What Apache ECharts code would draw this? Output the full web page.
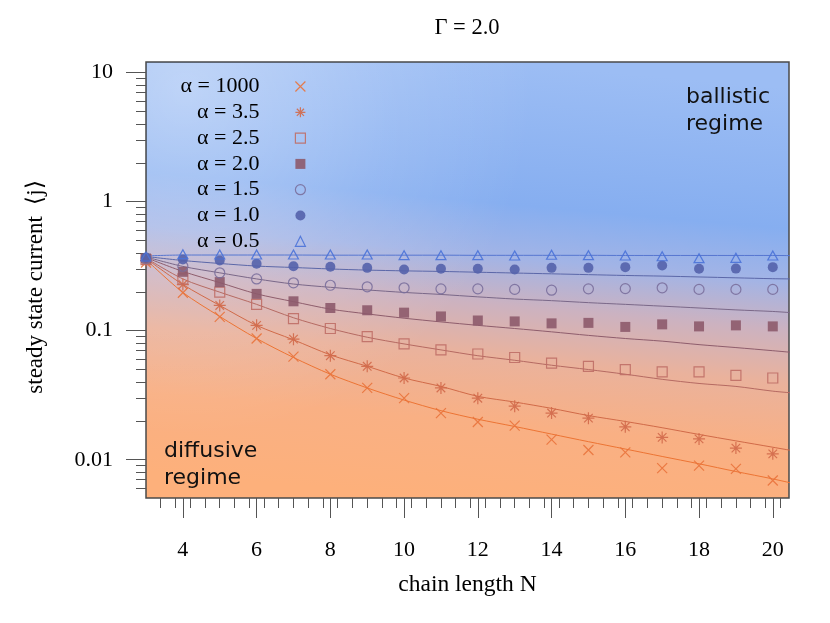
<!DOCTYPE html>
<html>
<head>
<meta charset="utf-8">
<script src="https://cdn.jsdelivr.net/npm/echarts@6/dist/echarts.min.js"></script>
<style>
  html, body { margin: 0; padding: 0; background: #fff; }
  #chart { width: 830px; height: 623px; }
</style>
</head>
<body>
<div id="chart"></div>
<script>
// chain lengths of the simulated points and of the fitted curves
const chainN = [3, 4, 5, 6, 7, 8, 9, 10, 11, 12, 13, 14, 15, 16, 17, 18, 19, 20]
const fitN = [3, 4, 5, 6, 7, 8, 9, 10, 11, 12, 13, 14, 15, 16, 17, 18, 19, 20, 20.5]

// simulated steady state current
const alpha1000 = [0.338, 0.197, 0.128, 0.087, 0.063, 0.046, 0.036, 0.030, 0.023, 0.0196, 0.0184, 0.0143, 0.0119, 0.0114, 0.0086, 0.0090, 0.0085, 0.0069]
const alpha3_5 = [0.350, 0.228, 0.157, 0.110, 0.086, 0.064, 0.053, 0.043, 0.036, 0.030, 0.026, 0.023, 0.021, 0.018, 0.0149, 0.0145, 0.0123, 0.0111]
const alpha2_5 = [0.356, 0.252, 0.199, 0.160, 0.124, 0.104, 0.090, 0.079, 0.071, 0.066, 0.062, 0.056, 0.053, 0.050, 0.048, 0.048, 0.045, 0.043]
const alpha2_0 = [0.363, 0.286, 0.238, 0.193, 0.169, 0.150, 0.144, 0.138, 0.129, 0.120, 0.118, 0.114, 0.115, 0.107, 0.112, 0.108, 0.110, 0.108]
const alpha1_5 = [0.363, 0.316, 0.281, 0.252, 0.235, 0.225, 0.219, 0.215, 0.211, 0.211, 0.209, 0.206, 0.211, 0.212, 0.215, 0.209, 0.209, 0.209]
const alpha1_0 = [0.369, 0.356, 0.350, 0.330, 0.316, 0.313, 0.307, 0.298, 0.302, 0.302, 0.298, 0.307, 0.307, 0.311, 0.320, 0.302, 0.303, 0.311]
const alpha0_5 = [0.376, 0.392, 0.390, 0.390, 0.390, 0.390, 0.390, 0.385, 0.385, 0.385, 0.383, 0.388, 0.385, 0.383, 0.378, 0.365, 0.367, 0.383]

// fitted curves
const fit1000 = [0.356, 0.198, 0.129, 0.087, 0.062, 0.046, 0.036, 0.029, 0.024, 0.0206, 0.0181, 0.0158, 0.0138, 0.0121, 0.0106, 0.0093, 0.0081, 0.0071, 0.0066]
const fit3_5 = [0.363, 0.228, 0.157, 0.110, 0.085, 0.065, 0.053, 0.043, 0.037, 0.031, 0.028, 0.025, 0.022, 0.0198, 0.0177, 0.0157, 0.0140, 0.0125, 0.0118]
const fit2_5 = [0.366, 0.252, 0.199, 0.160, 0.126, 0.104, 0.089, 0.079, 0.071, 0.064, 0.059, 0.054, 0.050, 0.046, 0.042, 0.039, 0.037, 0.034, 0.033]
const fit2_0 = [0.369, 0.288, 0.236, 0.193, 0.168, 0.147, 0.135, 0.125, 0.117, 0.110, 0.104, 0.098, 0.092, 0.087, 0.083, 0.078, 0.074, 0.070, 0.068]
const fit1_5 = [0.373, 0.315, 0.281, 0.252, 0.230, 0.217, 0.207, 0.198, 0.191, 0.183, 0.176, 0.171, 0.165, 0.160, 0.155, 0.150, 0.145, 0.141, 0.138]
const fit1_0 = [0.376, 0.350, 0.332, 0.317, 0.309, 0.301, 0.295, 0.291, 0.288, 0.284, 0.280, 0.276, 0.272, 0.268, 0.265, 0.261, 0.257, 0.253, 0.252]
const fit0_5 = [0.380, 0.386, 0.386, 0.386, 0.386, 0.385, 0.385, 0.385, 0.385, 0.384, 0.384, 0.384, 0.384, 0.383, 0.383, 0.383, 0.383, 0.383, 0.382]

const legendNames = ['α = 1000', 'α = 3.5', 'α = 2.5', 'α = 2.0', 'α = 1.5', 'α = 1.0', 'α = 0.5']

// tick labels
const xMajorTicks = [4, 6, 8, 10, 12, 14, 16, 18, 20]
const yMajorTicks = [0.01, 0.1, 1, 10]
const yMinorTicks = [0.006, 0.007, 0.008, 0.009,
  0.02, 0.03, 0.04, 0.05, 0.06, 0.07, 0.08, 0.09,
  0.2, 0.3, 0.4, 0.5, 0.6, 0.7, 0.8, 0.9,
  2, 3, 4, 5, 6, 7, 8, 9]
const xMinorTicks = []
for (let k = 1; k <= 43; k++) {
  const v = Math.round((3 + k * 0.4) * 10) / 10
  if (v % 2 !== 0) xMinorTicks.push(v)
}

const X_MIN = 3, X_MAX = 20.44
const Y_MIN = 0.00505, Y_MAX = 12.1

const serif = '"Liberation Serif", "Times New Roman", serif'
const sans = '"DejaVu Sans", sans-serif'

const crossPath = 'path://M0,0L10,10M10,0L0,10'
const starPath = 'path://M0,0L10,10M10,0L0,10M5,-2L5,12M-2,5L12,5'

const styles = [
  { pts: alpha1000, fit: fit1000, symbol: crossPath, size: 10, hollow: true, color: '#e9733c', line: '#ec7434' },
  { pts: alpha3_5, fit: fit3_5, symbol: starPath, size: 12, hollow: true, color: '#d2694a', line: '#d06a48' },
  { pts: alpha2_5, fit: fit2_5, symbol: 'rect', size: 10, hollow: true, color: '#bf6e66', line: '#b56a62' },
  { pts: alpha2_0, fit: fit2_0, symbol: 'rect', size: 10, hollow: false, color: '#8d5a6b', line: '#8e5d6c' },
  { pts: alpha1_5, fit: fit1_5, symbol: 'circle', size: 10, hollow: true, color: '#7a6f9c', line: '#7a6888' },
  { pts: alpha1_0, fit: fit1_0, symbol: 'circle', size: 10, hollow: false, color: '#5462ab', line: '#5b67a8' },
  { pts: alpha0_5, fit: fit0_5, symbol: 'triangle', size: [10, 9], hollow: true, color: '#4a72d8', line: '#5676d0' },
]

const series = []
styles.forEach((s, i) => {
  series.push({
    name: 'fit ' + legendNames[i],
    type: 'line',
    data: fitN.map((n, j) => [n, s.fit[j]]),
    smooth: 0.3,
    showSymbol: false,
    clip: true,
    silent: true,
    z: 2,
    lineStyle: { color: s.line, width: 1 },
    itemStyle: { color: s.line },
  })
})
styles.forEach((s, i) => {
  series.push({
    name: legendNames[i],
    type: 'scatter',
    data: chainN.map((n, j) => [n, s.pts[j]]),
    symbol: s.symbol,
    symbolSize: s.size,
    z: 3,
    itemStyle: s.hollow
      ? { color: 'transparent', borderColor: s.color, borderWidth: 1.2, opacity: 0.9 }
      : { color: s.color, opacity: 0.9 },
  })
})

const bg = new echarts.graphic.LinearGradient(0.53, 0, 0.47, 1, [
  { offset: 0, color: '#9cbdf4' },
  { offset: 0.32, color: '#86aef0' },
  { offset: 0.44, color: '#a2b4e6' },
  { offset: 0.55, color: '#ccb2c0' },
  { offset: 0.67, color: '#eab29c' },
  { offset: 0.82, color: '#f9b084' },
  { offset: 1, color: '#fdb07b' },
])

const options = {
  animation: false,
  title: {
    text: 'Γ = 2.0',
    left: 467,
    top: 17,
    padding: 0,
    textAlign: 'center',
    textStyle: { fontFamily: serif, fontSize: 22.5, fontWeight: 'normal', color: '#000' },
  },
  legend: {
    data: legendNames,
    orient: 'vertical',
    align: 'right',
    right: 524,
    top: 75.5,
    padding: 0,
    itemGap: 3.8,
    itemWidth: 10,
    itemHeight: 10,
    itemStyle: { borderWidth: 1.2 },
    textStyle: { fontFamily: serif, fontSize: 22, color: '#000', padding: [0, 31, 0, 0] },
  },
  grid: {
    left: 146,
    right: 41,
    top: 62,
    bottom: 125,
    show: true,
    backgroundColor: bg,
    borderColor: '#4a4a4a',
    borderWidth: 1.5,
  },
  xAxis: [
    {
      type: 'value',
      min: X_MIN,
      max: X_MAX,
      name: 'chain length N',
      nameLocation: 'middle',
      nameGap: 75,
      nameTextStyle: { fontFamily: serif, fontSize: 23.5, color: '#000' },
      axisLine: { show: false },
      splitLine: { show: false },
      axisTick: { customValues: xMajorTicks, length: 20, lineStyle: { color: '#555' } },
      axisLabel: {
        customValues: xMajorTicks,
        margin: 41,
        fontFamily: serif,
        fontSize: 22,
        color: '#000',
      },
    },
    {
      type: 'value',
      min: X_MIN,
      max: X_MAX,
      position: 'bottom',
      axisLine: { show: false },
      splitLine: { show: false },
      axisLabel: { show: false },
      axisTick: { customValues: xMinorTicks, length: 10, lineStyle: { color: '#555' } },
    },
  ],
  yAxis: [
    {
      type: 'log',
      min: Y_MIN,
      max: Y_MAX,
      position: 'left',
      name: 'steady state current  ⟨j⟩',
      nameLocation: 'middle',
      nameGap: 99,
      nameTextStyle: { fontFamily: serif, fontSize: 23, color: '#000', padding: [0, 14, 0, 0] },
      axisLine: { show: false },
      splitLine: { show: false },
      axisTick: { customValues: yMajorTicks, length: 20, lineStyle: { color: '#555' } },
      axisLabel: {
        customValues: yMajorTicks,
        margin: 33,
        fontFamily: serif,
        fontSize: 22,
        color: '#000',
        formatter: (v) => String(v),
      },
    },
    {
      type: 'log',
      min: Y_MIN,
      max: Y_MAX,
      position: 'left',
      axisLine: { show: false },
      splitLine: { show: false },
      axisLabel: { show: false },
      axisTick: { customValues: yMinorTicks, length: 10, lineStyle: { color: '#555' } },
    },
  ],
  graphic: [
    {
      type: 'rect',
      left: 147,
      top: 63,
      silent: true,
      shape: { width: 641, height: 434 },
      style: {
        fill: new echarts.graphic.RadialGradient(0.06, 0.06, 0.8, [
          { offset: 0, color: 'rgba(255,255,255,0.4)' },
          { offset: 0.6, color: 'rgba(255,255,255,0.12)' },
          { offset: 1, color: 'rgba(255,255,255,0)' },
        ]),
      },
    },
    {
      type: 'text',
      left: 686,
      top: 84,
      silent: true,
      style: { text: 'ballistic\nregime', font: '22px ' + sans, fill: '#111', lineHeight: 27 },
    },
    {
      type: 'text',
      left: 164,
      top: 438,
      silent: true,
      style: { text: 'diffusive\nregime', font: '22px ' + sans, fill: '#111', lineHeight: 27 },
    },
  ],
  series: series,
}

const chart = echarts.init(document.getElementById('chart'))
chart.setOption(options)
window.addEventListener('resize', function () {
  chart && chart.resize()
})
</script>
</body>
</html>
